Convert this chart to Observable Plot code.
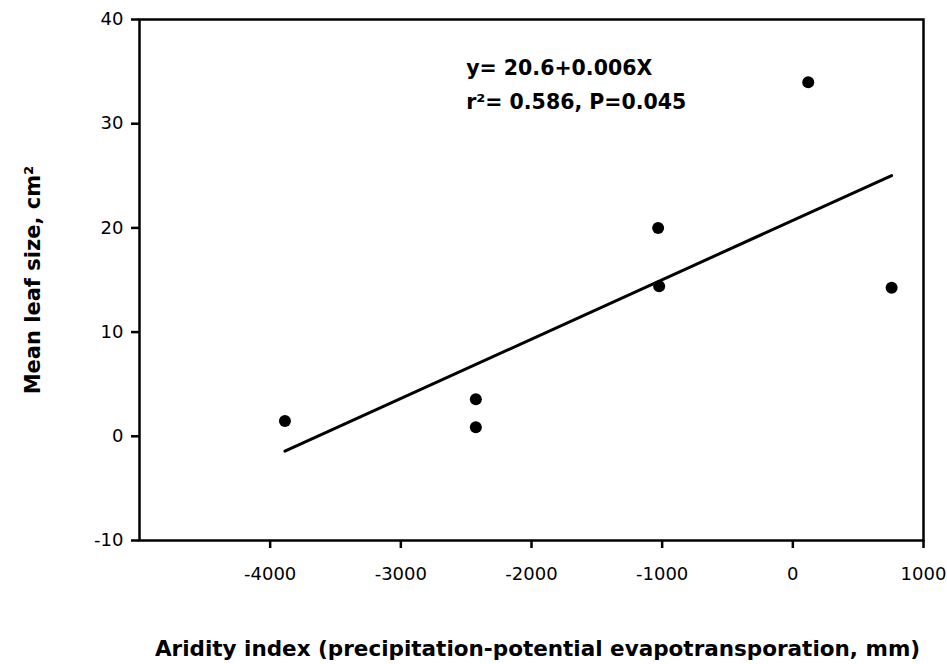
<!DOCTYPE html>
<html>
<head>
<meta charset="utf-8">
<script src="https://cdn.jsdelivr.net/npm/d3@7"></script>
<script src="https://cdn.jsdelivr.net/npm/@observablehq/plot@0.6"></script>
<style>
  body { margin: 0; background: #fff; }
</style>
</head>
<body>
<div id="chart"></div>
<script>
// Data
const aridity  = [-3887, -2426, -2426, -1031, -1023, 118, 756];   // mm
const leafSize = [1.47, 3.56, 0.87, 20.0, 14.39, 33.97, 14.26];   // cm²
const xTicks = [-4000, -3000, -2000, -1000, 0, 1000];
const yTicks = [-10, 0, 10, 20, 30, 40];
const annotationLines = ["y= 20.6+0.006X", "r²= 0.586, P=0.045"];
const xTitle = "Aridity index (precipitation-potential evapotransporation, mm)";
const yTitle = "Mean leaf size, cm²";

const data = aridity.map((x, i) => ({x, y: leafSize[i]}));

const chart = Plot.plot({
  width: 947,
  height: 664,
  marginLeft: 139,
  marginRight: 24,
  marginTop: 19,
  marginBottom: 124,
  style: {fontFamily: "'DejaVu Sans', sans-serif", fontSize: "18px", color: "#000", background: "#fff"},
  x: {domain: [-5000, 1000]},
  y: {domain: [-10, 40]},
  marks: [
    Plot.frame({stroke: "#000", strokeWidth: 2.5}),
    Plot.axisX({ticks: xTicks, tickSize: 8, tickPadding: 19, tickFormat: d => String(d), strokeWidth: 2.5, label: null}),
    Plot.axisY({ticks: yTicks, tickSize: 8, tickPadding: 8, tickFormat: d => String(d), strokeWidth: 2.5, label: null}),
    Plot.linearRegressionY(data, {x: "x", y: "y", ci: 0, stroke: "#000", strokeWidth: 3}),
    Plot.dot(data, {x: "x", y: "y", r: 6, fill: "#000", stroke: null}),
    Plot.text([annotationLines[0]], {x: -2500, y: 35.3, textAnchor: "start", fontWeight: "bold", fontSize: 20.5}),
    Plot.text([annotationLines[1]], {x: -2500, y: 32.0, textAnchor: "start", fontWeight: "bold", fontSize: 20.5}),
    Plot.text([xTitle], {frameAnchor: "bottom", lineAnchor: "middle", textAnchor: "middle", dy: 109, dx: 6, fontWeight: "bold", fontSize: 21.5}),
    Plot.text([yTitle], {frameAnchor: "left", lineAnchor: "middle", textAnchor: "middle", dx: -106, rotate: -90, fontWeight: "bold", fontSize: 21})
  ]
});

document.getElementById("chart").appendChild(chart);
</script>
</body>
</html>
